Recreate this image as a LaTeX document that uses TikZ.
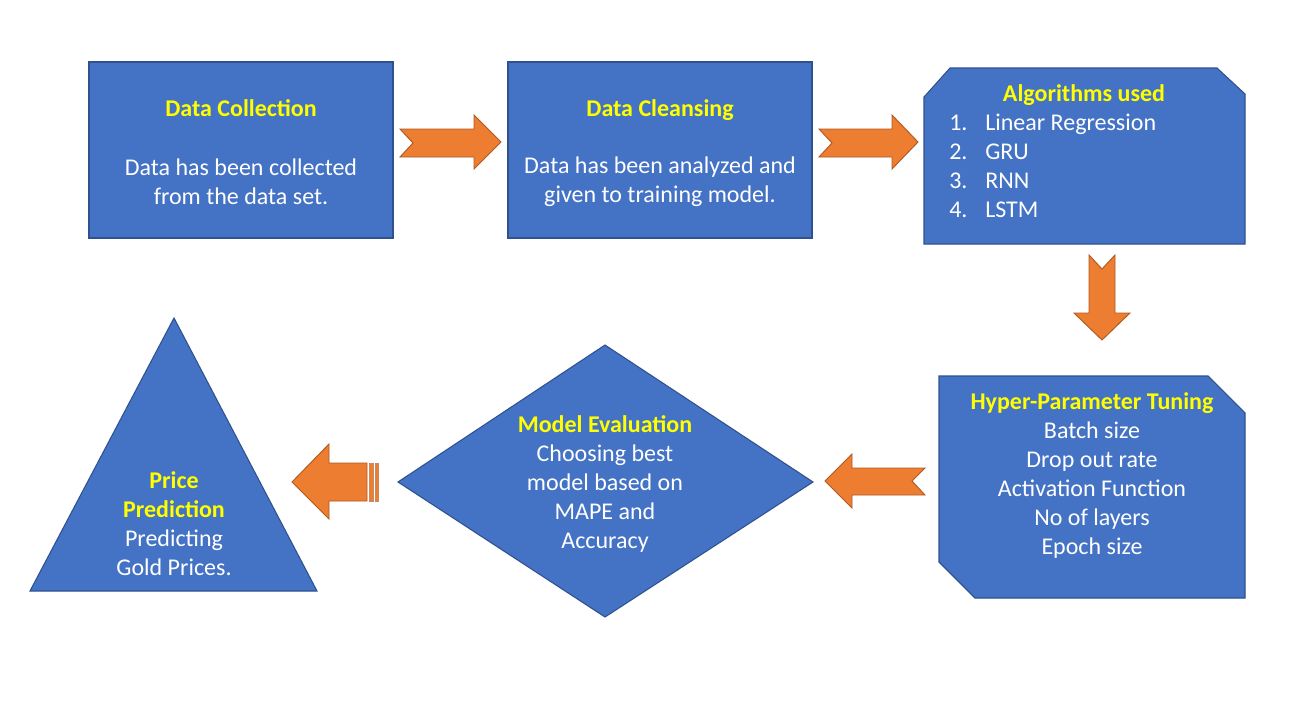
\documentclass[tikz,border=0pt]{standalone}
\usepackage{fontspec}
\setmainfont{Carlito}
\definecolor{boxfill}{HTML}{4472C4}
\definecolor{boxline}{HTML}{2F528F}
\definecolor{arrfill}{HTML}{ED7D31}
\definecolor{arrline}{HTML}{AE5A21}
\definecolor{ttl}{HTML}{FFFF00}
\tikzset{
  shapebox/.style={fill=boxfill,draw=boxline,line width=0.8pt,line join=miter},
  blockarrow/.style={fill=arrfill,draw=arrline,line width=0.7pt,line join=miter},
  stripe/.style={fill=arrfill,draw=arrline!70!white,line width=0.6pt},
  body/.style={text=white,font=\fontsize{18}{21.75}\selectfont,align=center,inner sep=0pt},
  title/.style={text=ttl,font=\fontsize{18}{21.75}\selectfont\bfseries,align=center,inner sep=0pt},
  item/.style={text=white,font=\fontsize{18}{21.75}\selectfont,anchor=base west,inner sep=0pt}
}
\begin{document}
\begin{tikzpicture}[x=0.75pt,y=-0.75pt]
\useasboundingbox (0,0) rectangle (1290,725);
\fill[white] (0,0) rectangle (1290,725);
% Box 1
\node[shapebox,minimum width=304*0.75pt,minimum height=176*0.75pt,inner sep=0pt] (b1) at (241,150) {};
\node[title] (t1) at (241,108) {Data Collection};
\node[body] (d1) at (241,181.5) {Data has been collected\\from the data set.};
% Box 2
\node[shapebox,minimum width=304*0.75pt,minimum height=176*0.75pt,inner sep=0pt] (b2) at (660,150) {};
\node[title] (t2) at (660,110) {Data Cleansing};
\node[body] (d2) at (660,181.5) {Data has been analyzed and\\given to training model.};
% Box 3 (top corners snipped)
\draw[shapebox] (950,68) -- (1217,68) -- (1245,94) -- (1245,244) -- (924,244) -- (924,97) -- cycle;
\coordinate (b3) at (1084,156);
\node[title] (t3) at (1084,95) {Algorithms used};
\node[item] (n1) at (949,130) {1.};
\node[item] (n2) at (949,159) {2.};
\node[item] (n3) at (949,188) {3.};
\node[item] (n4) at (949,217) {4.};
\node[item] (i1) at (985,130) {Linear Regression};
\node[item] (i2) at (985,159) {GRU};
\node[item] (i3) at (985,188) {RNN};
\node[item] (i4) at (985,217) {LSTM};
% Box 4 (diagonal corners snipped)
\draw[shapebox] (939,376) -- (1208,376) -- (1245,413) -- (1245,598) -- (975,598) -- (939,562) -- cycle;
\node[body] (d4) at (1092,475.5) {\textcolor{ttl}{\bfseries Hyper-Parameter Tuning}\\Batch size\\Drop out rate\\Activation Function\\No of layers\\Epoch size};
% Diamond
\draw[shapebox] (398,482) -- (605,345) -- (813,482) -- (605,617) -- cycle;
\node[body] (d5) at (605,484) {\textcolor{ttl}{\bfseries Model Evaluation}\\Choosing best\\model based on\\MAPE and\\Accuracy};
% Triangle
\draw[shapebox] (174,318) -- (317,591) -- (30,591) -- cycle;
\node[body] (d6) at (174,523.5) {\textcolor{ttl}{\bfseries Price}\\\textcolor{ttl}{\bfseries Prediction}\\Predicting\\Gold Prices.};
% Arrow 1 -> right
\draw[blockarrow] (400,129) -- (474,129) -- (474,115) -- (501,142) -- (474,169) -- (474,157) -- (400,157) -- (413,143) -- cycle;
% Arrow 2 -> right
\draw[blockarrow] (819,129) -- (892,129) -- (892,115) -- (918,142) -- (892,169) -- (892,157) -- (819,157) -- (832,143) -- cycle;
% Arrow 3 down
\draw[blockarrow] (1089,255) -- (1102,269) -- (1115,255) -- (1115,313) -- (1130,313) -- (1102,340) -- (1074,313) -- (1089,313) -- cycle;
% Arrow 4 left
\draw[blockarrow] (925,468) -- (852,468) -- (852,454) -- (825,481) -- (852,508) -- (852,495) -- (925,495) -- (912,481) -- cycle;
% Arrow 5 left, striped tail
\draw[blockarrow] (367,463) -- (329,463) -- (329,444) -- (292,482) -- (329,519) -- (329,501) -- (367,501) -- cycle;
\draw[stripe] (369.5,463) rectangle (373,501);
\draw[stripe] (375.5,463) rectangle (378.5,501);
\end{tikzpicture}
\end{document}
